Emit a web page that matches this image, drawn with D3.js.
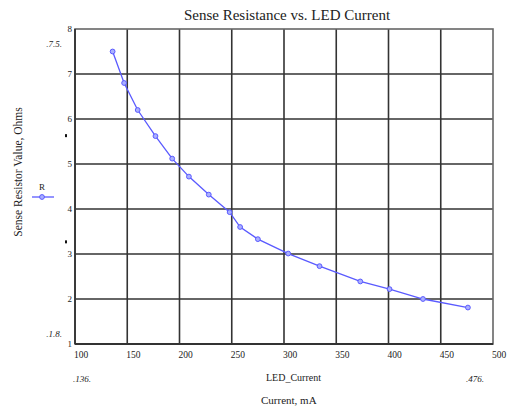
<!DOCTYPE html>
<html><head><meta charset="utf-8">
<script src="https://cdn.jsdelivr.net/npm/d3@7/dist/d3.min.js"></script>
<style>body{margin:0;background:#fff}svg{display:block}</style>
</head><body>
<script>
const currents = [136, 147, 160, 177, 193, 209, 228, 248, 258, 275, 304, 334, 373, 401, 433, 476];
const resistance = [7.5, 6.8, 6.2, 5.62, 5.12, 4.72, 4.32, 3.93, 3.6, 3.33, 3.01, 2.73, 2.39, 2.22, 2.0, 1.81];
const xTicks = [100, 150, 200, 250, 300, 350, 400, 450, 500];
const yTicks = [1, 2, 3, 4, 5, 6, 7, 8];
const title = "Sense Resistance vs. LED Current";
const xLabel = "Current, mA";
const yLabel = "Sense Resistor Value, Ohms";
const xVarName = "LED_Current";
const seriesName = "R";
const xRangeLabels = [".136.", ".476."];
const yRangeLabels = [".7.5.", ".1.8."];

const W = 507, H = 410;
const svg = d3.select("body").append("svg").attr("width", W).attr("height", H)
  .style("font-family", "'Liberation Serif','Times New Roman',serif");

const x = d3.scaleLinear().domain([100, 500]).range([75, 493]);
const y = d3.scaleLinear().domain([1, 8]).range([344, 29]);
const lineColor = "#5a5aff";

// grid
svg.append("g").selectAll("line.v").data(xTicks.slice(1, -1)).join("line")
  .attr("x1", d => x(d)).attr("x2", d => x(d)).attr("y1", y(8)).attr("y2", y(1))
  .attr("stroke", "#333").attr("stroke-width", 1.6);
svg.append("g").selectAll("line.h").data(yTicks.slice(1, -1)).join("line")
  .attr("y1", d => y(d)).attr("y2", d => y(d)).attr("x1", x(100)).attr("x2", x(500))
  .attr("stroke", "#333").attr("stroke-width", 1.6);
// border
svg.append("rect").attr("x", x(100)).attr("y", y(8)).attr("width", x(500) - x(100)).attr("height", y(1) - y(8))
  .attr("fill", "none").attr("stroke", "#666").attr("stroke-width", 1.6);
svg.append("line").attr("x1", x(100)).attr("x2", x(500)).attr("y1", y(1)).attr("y2", y(1)).attr("stroke", "#333").attr("stroke-width", 1.8);
svg.append("line").attr("x1", x(100)).attr("x2", x(100)).attr("y1", y(1)).attr("y2", y(8)).attr("stroke", "#333").attr("stroke-width", 1.8);

// tick labels
svg.append("g").selectAll("text").data(xTicks).join("text")
  .attr("x", d => x(d) - 1).attr("y", y(1) + 14).attr("font-size", 9.5).attr("fill", "#222").text(d => d);
svg.append("g").selectAll("text").data(yTicks).join("text")
  .attr("x", x(100) - 3).attr("y", d => y(d) + 3).attr("text-anchor", "end").attr("font-size", 9).attr("fill", "#222").text(d => d);

// small markers on y axis
svg.append("g").selectAll("rect").data([5.63, 3.27]).join("rect")
  .attr("x", 65).attr("y", d => y(d) - 1.5).attr("width", 2).attr("height", 3).attr("fill", "#111");

// line + markers
svg.append("path").datum(currents.map((c, i) => [c, resistance[i]]))
  .attr("d", d3.line().x(d => x(d[0])).y(d => y(d[1])))
  .attr("fill", "none").attr("stroke", lineColor).attr("stroke-width", 1.3);
svg.append("g").selectAll("circle").data(currents.map((c, i) => [c, resistance[i]])).join("circle")
  .attr("cx", d => x(d[0])).attr("cy", d => y(d[1])).attr("r", 2.4)
  .attr("fill", "#aab0ff").attr("stroke", lineColor).attr("stroke-width", 1);

// title
svg.append("text").attr("x", 287).attr("y", 20).attr("text-anchor", "middle").attr("font-size", 15).attr("fill", "#222").text(title);
// y label
svg.append("text").attr("transform", "translate(22,172) rotate(-90)").attr("text-anchor", "middle")
  .attr("font-size", 11.5).attr("fill", "#222").text(yLabel);
// x label & var name
svg.append("text").attr("x", 261).attr("y", 404).attr("font-size", 11).attr("fill", "#222").text(xLabel);
svg.append("text").attr("x", 266).attr("y", 381).attr("font-size", 10).attr("fill", "#222").text(xVarName);
// range labels
svg.append("text").attr("x", 73).attr("y", 382).attr("font-size", 9).attr("font-style", "italic").attr("fill", "#222").text(xRangeLabels[0]);
svg.append("text").attr("x", 466).attr("y", 382).attr("font-size", 9).attr("font-style", "italic").attr("fill", "#222").text(xRangeLabels[1]);
svg.append("text").attr("x", 62).attr("y", 47).attr("text-anchor", "end").attr("font-size", 9).attr("font-style", "italic").attr("fill", "#222").text(yRangeLabels[0]);
svg.append("text").attr("x", 62).attr("y", 337).attr("text-anchor", "end").attr("font-size", 9).attr("font-style", "italic").attr("fill", "#222").text(yRangeLabels[1]);

// legend
svg.append("text").attr("x", 42).attr("y", 190).attr("text-anchor", "middle").attr("font-size", 9).attr("fill", "#222").text(seriesName);
svg.append("line").attr("x1", 32).attr("x2", 54).attr("y1", 197).attr("y2", 197).attr("stroke", lineColor).attr("stroke-width", 1.3);
svg.append("circle").attr("cx", 42).attr("cy", 197).attr("r", 2.4).attr("fill", "#aab0ff").attr("stroke", lineColor);
</script>
</body></html>
